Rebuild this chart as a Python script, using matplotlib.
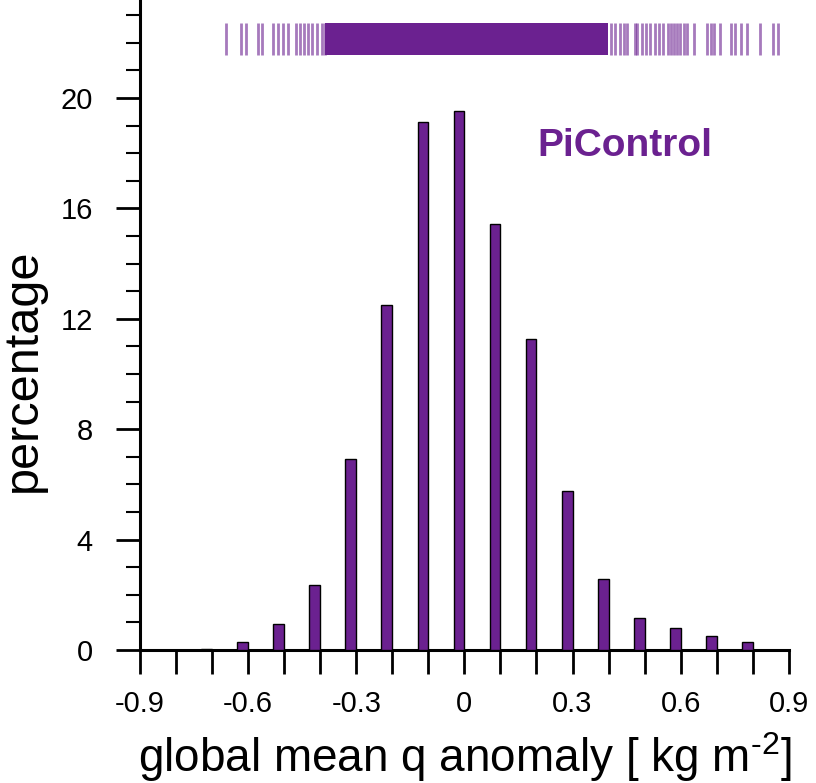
import numpy as np
import matplotlib
matplotlib.use("Agg")
import matplotlib.pyplot as plt
from matplotlib.ticker import MultipleLocator, FixedLocator

plt.rcParams["font.family"] = ["Liberation Sans", "DejaVu Sans"]
plt.rcParams["mathtext.fontset"] = "custom"
plt.rcParams["mathtext.rm"] = "Liberation Sans"

# histogram: bin right edges and percentages
bin_pos = [-0.7, -0.6, -0.5, -0.4, -0.3, -0.2, -0.1, 0.0, 0.1, 0.2, 0.3, 0.4, 0.5, 0.6, 0.7, 0.8]
percent = [0.05, 0.3, 0.95, 2.36, 6.92, 12.5, 19.13, 19.53, 15.43, 11.27, 5.76, 2.57, 1.17, 0.79, 0.52, 0.29]

# rug of individual years: sparse tails plus a dense core range
rug_left = [-0.662, -0.619, -0.605, -0.574, -0.562, -0.531, -0.518, -0.503, -0.489,
            -0.467, -0.455, -0.446, -0.434, -0.422, -0.41, -0.395, -0.386]
rug_core = (-0.386, 0.398)
rug_right = [0.406, 0.418, 0.431, 0.443, 0.451, 0.473, 0.479, 0.492, 0.504, 0.516,
             0.528, 0.540, 0.552, 0.565, 0.573, 0.581, 0.589, 0.598, 0.610, 0.619,
             0.638, 0.674, 0.683, 0.693, 0.708, 0.741, 0.751, 0.768, 0.784, 0.821,
             0.855, 0.869]

xtick_vals = [-0.9, -0.6, -0.3, 0.0, 0.3, 0.6, 0.9]
xtick_text = ["-0.9", "-0.6", "-0.3", "0", "0.3", "0.6", "0.9"]

purple = "#6b2190"

fig = plt.figure(figsize=(8.16, 7.83), dpi=100)
ax = fig.add_axes([0.1716, 0.170, 0.795, 0.830])

ax.bar(bin_pos, percent, width=-0.03, align="edge", color=purple,
       edgecolor="black", linewidth=1.0, zorder=3)

# rug
ax.vlines(rug_left + rug_right, 21.55, 22.7, color=purple, alpha=0.6, linewidth=2.0)
ax.fill_between(list(rug_core), 21.55, 22.7, color=purple, linewidth=0)

ax.text(0.203, 18.26, "PiControl", color=purple, fontsize=28, fontweight="bold",
        va="center", ha="left")

ax.set_xlim(-0.9, 0.9)
ax.set_ylim(0, 23.55)

ax.spines["top"].set_visible(False)
ax.spines["right"].set_visible(False)
for s in ("left", "bottom"):
    ax.spines[s].set_linewidth(2.2)

ax.xaxis.set_major_locator(FixedLocator(xtick_vals))
ax.set_xticklabels(xtick_text)
ax.xaxis.set_minor_locator(MultipleLocator(0.1))
ax.yaxis.set_major_locator(MultipleLocator(4))
ax.yaxis.set_minor_locator(MultipleLocator(1))

ax.tick_params(axis="x", which="both", direction="out", length=17, width=2.0,
               labelsize=21, pad=12)
ax.tick_params(axis="y", which="major", direction="out", length=17, width=2.0,
               labelsize=21, pad=17)
ax.tick_params(axis="y", which="minor", direction="out", length=10, width=1.5)

ax.set_xlabel("global mean q anomaly [ kg m$^{\u2010 2}$]", fontsize=33)
ax.xaxis.set_label_coords(0.5, -0.124)
ax.set_ylabel("percentage", fontsize=35)
ax.yaxis.set_label_coords(-0.145, 0.43)

fig.savefig("out.png", dpi=100)
